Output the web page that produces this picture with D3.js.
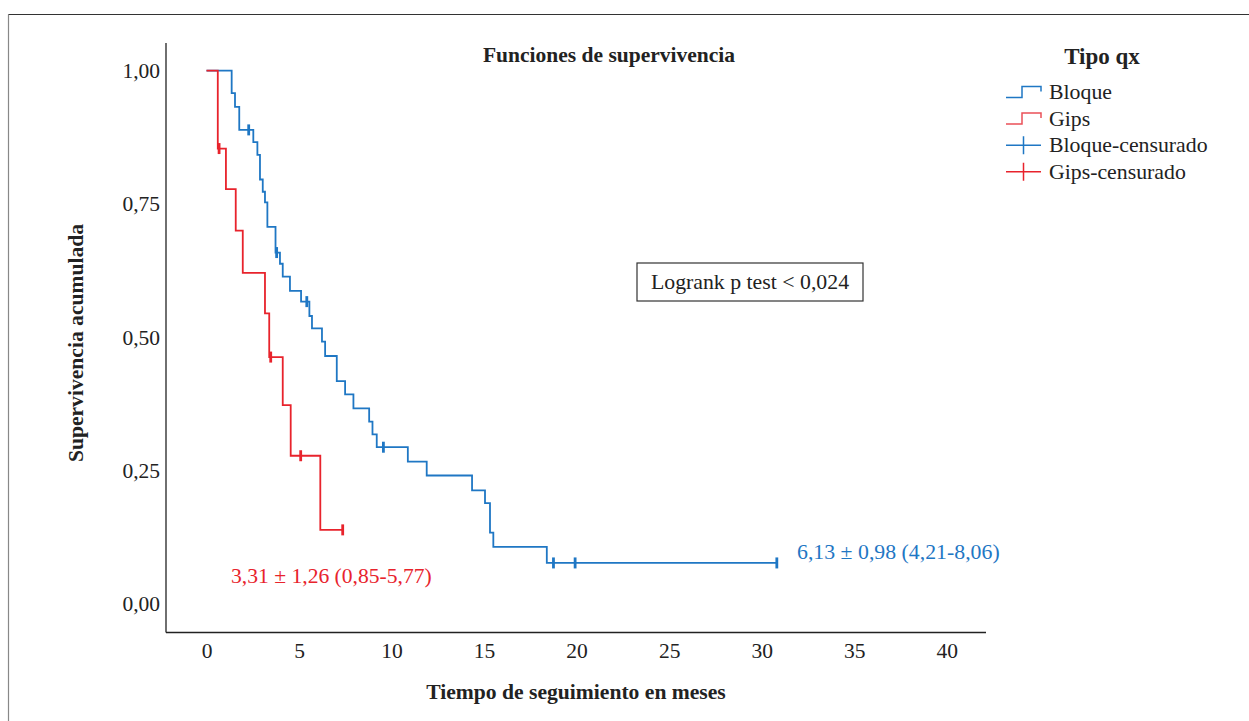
<script src="https://cdnjs.cloudflare.com/ajax/libs/d3/7.8.5/d3.min.js"></script>
<style>
  body { margin: 0; background: #fff; }
  svg text { font-family: "Liberation Serif", "Times New Roman", serif; fill: #222; }
</style>
<svg id="chart" width="1249" height="721"></svg>
<script>
  // data (time in months, cumulative survival)
  const bloqueTimes = [0, 1.36, 1.54, 1.77, 2.53, 2.75, 2.89, 3.04, 3.16, 3.29, 3.73, 3.97, 4.12, 4.51, 5.11, 5.56, 5.70, 6.24, 6.41, 7.04, 7.49, 7.94, 8.79, 8.97, 9.20, 10.88, 11.90, 14.35, 15.05, 15.32, 15.50, 18.39, 30.82]
  const bloqueSurv  = [1, 0.958, 0.932, 0.889, 0.866, 0.842, 0.796, 0.773, 0.753, 0.707, 0.659, 0.638, 0.614, 0.587, 0.567, 0.540, 0.517, 0.492, 0.465, 0.418, 0.393, 0.367, 0.342, 0.318, 0.294, 0.267, 0.241, 0.213, 0.189, 0.134, 0.107, 0.077, 0.077]
  const bloqueCensored = [2.28, 3.79, 5.42, 9.56, 18.75, 19.92, 30.82]
  const gipsTimes = [0, 0.61, 1.05, 1.58, 1.96, 3.16, 3.39, 4.12, 4.55, 6.15, 7.40]
  const gipsSurv  = [1, 0.854, 0.778, 0.700, 0.621, 0.545, 0.463, 0.373, 0.278, 0.139, 0.139]
  const gipsCensored = [0.68, 3.47, 5.09, 7.36]
  const xTicks = [0, 5, 10, 15, 20, 25, 30, 35, 40]
  const yTicks = [0, 0.25, 0.5, 0.75, 1]
  const legendLabels = ["Bloque", "Gips", "Bloque-censurado", "Gips-censurado"]

  const blue = "#1f77c4", red = "#e8232c"
  const svg = d3.select("#chart")

  // outer frame (left and top only)
  svg.append("path").attr("d", "M8.5,721V14.5").attr("stroke", "#888").attr("stroke-width", 1.2).attr("fill", "none")
  svg.append("path").attr("d", "M8.5,14.5H1249").attr("stroke", "#333").attr("stroke-width", 1.2).attr("fill", "none")

  const x = d3.scaleLinear().domain([0, 40]).range([206.5, 946.7])
  const y = d3.scaleLinear().domain([0, 1]).range([604, 70.7])
  const plotLeft = 166, plotRight = 986, plotTop = 43, plotBottom = 632.5

  // axes: lines without tick marks
  const gx = svg.append("g").attr("transform", "translate(0," + plotBottom + ")")
    .call(d3.axisBottom(x).tickValues(xTicks).tickSize(0).tickPadding(10).tickFormat(d3.format("d")))
  gx.select(".domain").attr("d", "M" + plotLeft + ",0H" + plotRight).attr("stroke", "#222").attr("stroke-width", 1.3)
  gx.selectAll("text").style("font-size", "21.5px").attr("fill", "#222")

  const gy = svg.append("g").attr("transform", "translate(" + plotLeft + ",0)")
    .call(d3.axisLeft(y).tickValues(yTicks).tickSize(0).tickPadding(6).tickFormat(d => d3.format(".2f")(d).replace(".", ",")))
  gy.select(".domain").attr("d", "M0," + plotTop + "V" + plotBottom).attr("stroke", "#222").attr("stroke-width", 1.3)
  gy.selectAll("text").style("font-size", "21.5px").attr("fill", "#222")

  // axis titles
  svg.append("text").attr("x", 576).attr("y", 699).attr("text-anchor", "middle")
    .style("font-size", "21.6px").style("font-weight", "bold").text("Tiempo de seguimiento en meses")
  svg.append("text").attr("transform", "translate(83,343) rotate(-90)").attr("text-anchor", "middle")
    .style("font-size", "21.6px").style("font-weight", "bold").text("Supervivencia acumulada")
  svg.append("text").attr("x", 609).attr("y", 62).attr("text-anchor", "middle")
    .style("font-size", "21.5px").style("font-weight", "bold").text("Funciones de supervivencia")

  // survival curves
  const line = d3.line().x(d => x(d[0])).y(d => y(d[1])).curve(d3.curveStepAfter)
  const series = [
    { times: bloqueTimes, surv: bloqueSurv, cens: bloqueCensored, color: blue },
    { times: gipsTimes, surv: gipsSurv, cens: gipsCensored, color: red }
  ]
  series.forEach(s => {
    const pts = s.times.map((t, i) => [t, s.surv[i]])
    svg.append("path").datum(pts).attr("d", line)
      .attr("fill", "none").attr("stroke", s.color).attr("stroke-width", 1.8)
    // censored marks, at the survival level in force at that time
    svg.selectAll(null).data(s.cens).enter().append("line")
      .attr("x1", d => x(d)).attr("x2", d => x(d))
      .attr("y1", d => y(s.surv[d3.bisectRight(s.times, d) - 1]) - 5.5)
      .attr("y2", d => y(s.surv[d3.bisectRight(s.times, d) - 1]) + 5.5)
      .attr("stroke", s.color).attr("stroke-width", 2.8)
  })

  // annotations
  svg.append("text").attr("x", 797).attr("y", 559).style("font-size", "21.8px").style("fill", blue)
    .text("6,13 ± 0,98 (4,21-8,06)")
  svg.append("text").attr("x", 231).attr("y", 583).style("font-size", "21.6px").style("fill", red)
    .text("3,31 ± 1,26 (0,85-5,77)")

  // logrank box
  svg.append("rect").attr("x", 637).attr("y", 263).attr("width", 226).attr("height", 38)
    .attr("fill", "#fff").attr("stroke", "#333").attr("stroke-width", 1.2)
  svg.append("text").attr("x", 750).attr("y", 289).attr("text-anchor", "middle")
    .style("font-size", "21.8px").text("Logrank p test < 0,024")

  // legend
  svg.append("text").attr("x", 1102).attr("y", 64).attr("text-anchor", "middle")
    .style("font-size", "23px").style("font-weight", "bold").text("Tipo qx")
  const legendColors = [blue, "#ea5058", blue, red]
  legendLabels.forEach((lab, i) => {
    const cy = 92 + i * 26.6
    const g = svg.append("g")
    if (i < 2) {
      g.append("path").attr("d", "M1006," + (cy + 5.5) + "H1022V" + (cy - 5.5) + "H1041V" + (cy - 0.5))
        .attr("fill", "none").attr("stroke", legendColors[i]).attr("stroke-width", 1.5)
    } else {
      g.append("path").attr("d", "M1006," + cy + "H1041M1023.5," + (cy - 9) + "V" + (cy + 9))
        .attr("fill", "none").attr("stroke", legendColors[i]).attr("stroke-width", 1.5)
    }
    g.append("text").attr("x", 1049).attr("y", cy + 7).style("font-size", "21.8px").text(lab)
  })
</script>
